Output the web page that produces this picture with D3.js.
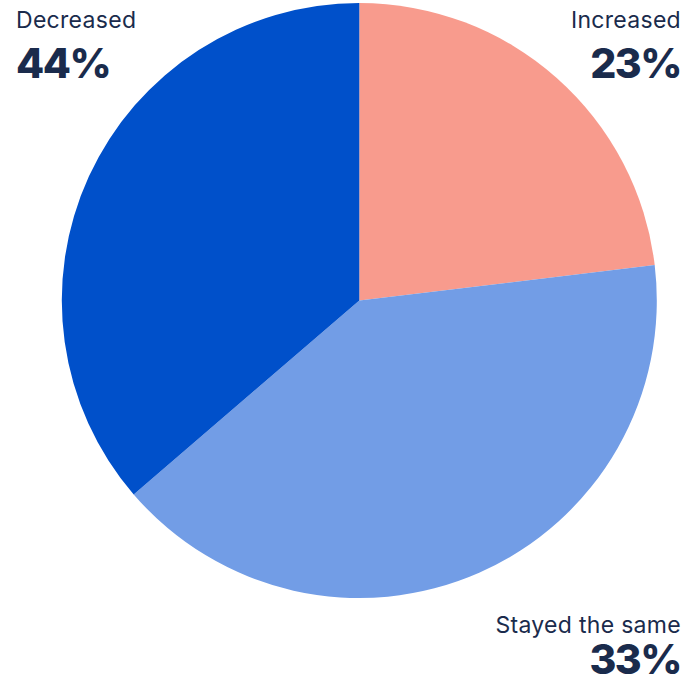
<!DOCTYPE html>
<html><head><meta charset="utf-8">
<script src="https://cdn.jsdelivr.net/npm/d3@7"></script>
<style>body{margin:0;background:#fff}svg{display:block}</style>
</head><body>
<svg id="c" width="695" height="682"></svg>
<script>
// Data
const categories = ["Increased", "Stayed the same", "Decreased"];
const sliceValues = [23.1, 40.6, 36.3];   // slice sizes as drawn
const labelValues = ["23%", "33%", "44%"]; // printed labels
const colors = ["#F89B8D", "#729DE6", "#0050CA"];

const svg = d3.select("#c");
const cx = 359.3, cy = 300.5, r = 297.5;
const pie = d3.pie().sort(null).value(d => d)(sliceValues);
const arc = d3.arc().innerRadius(0).outerRadius(r);
svg.append("g").attr("transform", `translate(${cx},${cy})`)
  .selectAll("path").data(pie).join("path")
  .attr("d", arc).attr("fill", (d, i) => colors[i]);

const txt = "#1A2B4C";
const font = "Inter, 'Noto Sans', sans-serif";
const labels = [
  {i: 0, x: 681, y: 28, y2: 78, anchor: "end"},
  {i: 1, x: 681, y: 633, y2: 674, anchor: "end"},
  {i: 2, x: 16, y: 28, y2: 78, anchor: "start"}
];
labels.forEach(l => {
  svg.append("text").attr("x", l.x).attr("y", l.y).attr("text-anchor", l.anchor)
    .attr("font-family", font).attr("font-size", 23).attr("font-weight", 400)
    .attr("letter-spacing", 0.3)
    .attr("fill", txt).text(categories[l.i]);
  svg.append("text").attr("x", l.x).attr("y", l.y2).attr("text-anchor", l.anchor)
    .attr("font-family", font).attr("font-size", 41).attr("font-weight", 800)
    .attr("letter-spacing", -1.5)
    .attr("fill", txt).text(labelValues[l.i]);
});
</script>
</body></html>
